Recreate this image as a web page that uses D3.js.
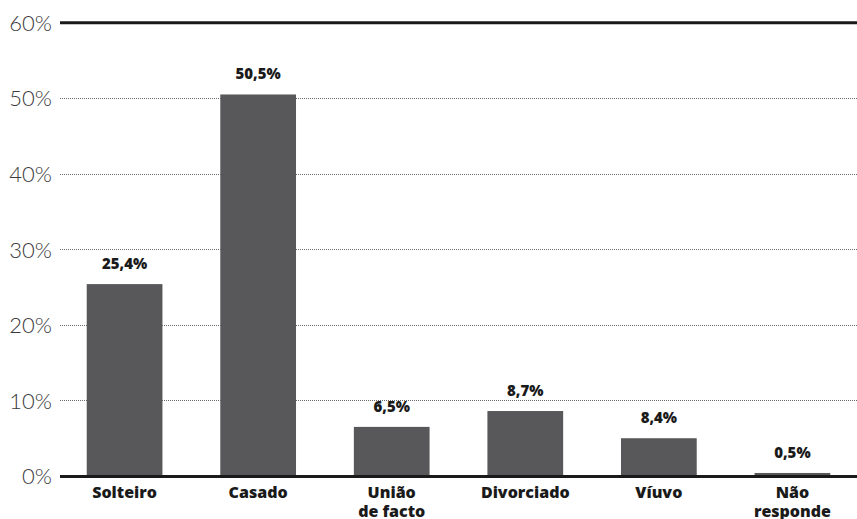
<!DOCTYPE html>
<html>
<head>
<meta charset="utf-8">
<script src="https://cdn.jsdelivr.net/npm/d3@7"></script>
<style>
  html, body { margin: 0; padding: 0; background: #fff; }
  svg { display: block; }
</style>
</head>
<body>
<svg id="chart" width="857" height="519"></svg>
<script>
const categories = [["Solteiro"], ["Casado"], ["União", "de facto"], ["Divorciado"], ["Víuvo"], ["Não", "responde"]];
const barValues = [25.4, 50.5, 6.5, 8.6, 5.0, 0.4];
const valueLabels = ["25,4%", "50,5%", "6,5%", "8,7%", "8,4%", "0,5%"];
const yTicks = [0, 10, 20, 30, 40, 50, 60];
const yTickLabels = ["0%", "10%", "20%", "30%", "40%", "50%", "60%"];

const svg = d3.select("#chart");
const W = 857, H = 519;
const margin = { left: 60, right: 0, top: 22.7, bottom: 43 };
const y0 = 476;

const x = d3.scaleBand()
  .domain(d3.range(categories.length))
  .range([margin.left, W])
  .paddingInner(0.433)
  .paddingOuter(0.2);

const y = d3.scaleLinear().domain([0, 60]).range([y0, margin.top]);

// gridlines
svg.append("g").selectAll("line")
  .data(yTicks.filter(t => t > 0 && t < 60))
  .join("line")
  .attr("x1", margin.left).attr("x2", W)
  .attr("y1", d => Math.round(y(d)) + 0.5).attr("y2", d => Math.round(y(d)) + 0.5)
  .attr("stroke", "#6a6a6a")
  .attr("stroke-width", 1)
  .attr("stroke-dasharray", "1,1");

// top line
svg.append("line")
  .attr("x1", margin.left).attr("x2", W)
  .attr("y1", y(60)).attr("y2", y(60))
  .attr("stroke", "#1a1a1a").attr("stroke-width", 3);

// y axis labels via d3 axis
const yAxis = d3.axisLeft(y).tickValues(yTicks).tickFormat((d, i) => yTickLabels[i]).tickSize(0).tickPadding(8);
const yg = svg.append("g").attr("transform", `translate(${margin.left},0)`).call(yAxis);
yg.select(".domain").remove();
yg.selectAll("text")
  .attr("font-family", "Lato, sans-serif")
  .attr("font-weight", 300)
  .attr("font-size", 22)
  .attr("fill", "#3a3a3a")
  .attr("dy", "0.35em");

// bars
svg.append("g").selectAll("rect")
  .data(barValues)
  .join("rect")
  .attr("x", (d, i) => x(i))
  .attr("width", x.bandwidth())
  .attr("y", d => y(d))
  .attr("height", d => y0 - y(d))
  .attr("fill", "#58585a");

// baseline
svg.append("line")
  .attr("x1", margin.left).attr("x2", W)
  .attr("y1", y0 + 0.5).attr("y2", y0 + 0.5)
  .attr("stroke", "#1a1a1a").attr("stroke-width", 3);

// value labels
svg.append("g").selectAll("text")
  .data(barValues)
  .join("text")
  .attr("x", (d, i) => x(i) + x.bandwidth() / 2)
  .attr("y", d => y(d) - 15)
  .attr("text-anchor", "middle")
  .attr("font-family", "'Open Sans', sans-serif")
  .attr("font-weight", 800)
  .attr("font-size", 15)
  .attr("fill", "#1a1a1a")
  .text((d, i) => valueLabels[i]);

// category labels (one text per line)
const lines = [];
categories.forEach((lbls, i) => lbls.forEach((s, j) => lines.push({ s, i, j })));
svg.append("g").selectAll("text")
  .data(lines)
  .join("text")
  .attr("x", d => x(d.i) + x.bandwidth() / 2)
  .attr("y", d => 498 + d.j * 19)
  .attr("text-anchor", "middle")
  .attr("font-family", "'Open Sans', sans-serif")
  .attr("font-weight", 800)
  .attr("font-size", 16)
  .attr("fill", "#1a1a1a")
  .text(d => d.s);
</script>
</body>
</html>
